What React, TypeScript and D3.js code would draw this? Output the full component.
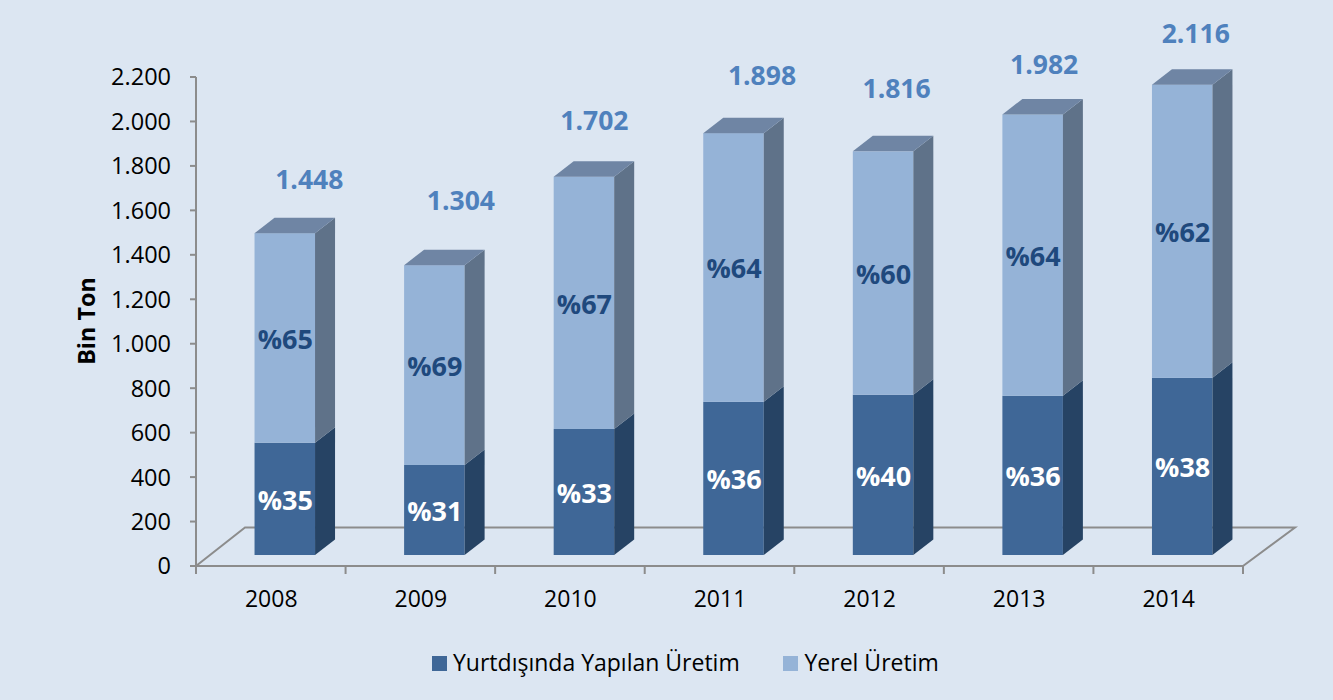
import React from "react";
import * as d3 from "d3";

const years = ["2008", "2009", "2010", "2011", "2012", "2013", "2014"];
const abroad = [505, 405, 567, 689, 721, 716, 797];
const totals = [1448, 1304, 1702, 1898, 1816, 1982, 2116];
const totalLabels = ["1.448", "1.304", "1.702", "1.898", "1.816", "1.982", "2.116"];
const abroadPct = ["%35", "%31", "%33", "%36", "%40", "%36", "%38"];
const localPct = ["%65", "%69", "%67", "%64", "%60", "%64", "%62"];
const yTicks = d3.range(0, 2201, 200);
const yTickLabels = ["0", "200", "400", "600", "800", "1.000", "1.200", "1.400", "1.600", "1.800", "2.000", "2.200"];

// layout
const totalDx = [25, 27, 11, 29, 14, 12, 14];
const totalY = [179, 200, 120, 75, 88, 64, 33];
const FONT = "'Open Sans', Lato, sans-serif";
const depthX = 20;
const depthY = 15.5;
const barW = 60.5;
const frontBase = 555;

const x = d3.scaleBand<string>().domain(years).range([196, 1243]);
const yAxis = d3.scaleLinear().domain([0, 2200]).range([566, 77]);
const yBar = (v: number) => frontBase - (yAxis(0) - yAxis(v));

const pts = (p: [number, number][]) => p.map((a) => a.join(",")).join(" ");

function Segment({ cx, y0, y1, face, side, top }: { cx: number; y0: number; y1: number; face: string; side: string; top?: string }) {
  const l = cx - barW / 2;
  const r = cx + barW / 2;
  return (
    <g>
      <rect x={l} y={y1} width={barW} height={y0 - y1} fill={face} />
      <polygon points={pts([[r, y0], [r + depthX, y0 - depthY], [r + depthX, y1 - depthY], [r, y1]])} fill={side} />
      {top && <polygon points={pts([[l, y1], [l + depthX, y1 - depthY], [r + depthX, y1 - depthY], [r, y1]])} fill={top} />}
    </g>
  );
}

export default function App() {
  const grey = "#8c8c8c";
  return (
    <svg width={1333} height={700} style={{ position: "absolute", left: 0, top: 0, background: "#dce6f2" }} fontFamily={FONT}>
      <polyline points={pts([[196, 566], [245, 527.5], [1295, 527.5], [1243, 566]])} fill="none" stroke={grey} strokeWidth={2} />
      <line x1={196} x2={196} y1={77} y2={566} stroke={grey} strokeWidth={2} />
      <line x1={196} x2={1243} y1={566} y2={566} stroke={grey} strokeWidth={2} />
      {yTicks.map((t, i) => (
        <g key={t}>
          <line x1={190} x2={196} y1={yAxis(t)} y2={yAxis(t)} stroke={grey} strokeWidth={2} />
          <text x={171} y={yAxis(t)} dy="0.36em" textAnchor="end" fontSize={23.5} fill="#000">{yTickLabels[i]}</text>
        </g>
      ))}
      {x.domain().concat("end").map((yr, i) => {
        const px = 196 + i * x.step();
        return <line key={yr} x1={px} x2={px} y1={566} y2={574} stroke={grey} strokeWidth={2} />;
      })}
      {years.map((yr) => (
        <text key={yr} x={x(yr)! + x.bandwidth() / 2 + 0.5} y={599} dy="0.36em" textAnchor="middle" fontSize={23} fill="#000">{yr}</text>
      ))}
      <text transform="translate(86,321) rotate(-90)" textAnchor="middle" dominantBaseline="central" fontSize={23.4} fontWeight={700} fill="#000">Bin Ton</text>

      {years.map((yr, i) => {
        const cx = x(yr)! + x.bandwidth() / 2 + 14;
        const yMid = yBar(abroad[i]);
        const yTop = yBar(totals[i]);
        return (
          <g key={yr}>
            <Segment cx={cx} y0={frontBase} y1={yMid} face="#3f6797" side="#264364" />
            <Segment cx={cx} y0={yMid} y1={yTop} face="#95b3d7" side="#5f7289" top="#6f85a4" />
            <text x={cx + 0.5} y={(frontBase + yMid) / 2 + 1} dy="0.36em" textAnchor="middle" fontSize={27} fontWeight={700} fill="#fff">{abroadPct[i]}</text>
            <text x={cx + 0.5} y={(yMid + yTop) / 2 + 1} dy="0.36em" textAnchor="middle" fontSize={27} fontWeight={700} fill="#1f497d">{localPct[i]}</text>
            <text x={cx - 0.5 + totalDx[i]} y={totalY[i]} dy="0.36em" textAnchor="middle" fontSize={26.5} fontWeight={700} fill="#4f81bd">{totalLabels[i]}</text>
          </g>
        );
      })}

      <rect x={432} y={656} width={15} height={15} fill="#3f6797" />
      <text x={453} y={663} dy="0.36em" fontSize={23} fill="#000">Yurtdışında Yapılan Üretim</text>
      <rect x={783} y={656} width={15} height={15} fill="#95b3d7" />
      <text x={804.5} y={663} dy="0.36em" fontSize={23} fill="#000">Yerel Üretim</text>
    </svg>
  );
}
